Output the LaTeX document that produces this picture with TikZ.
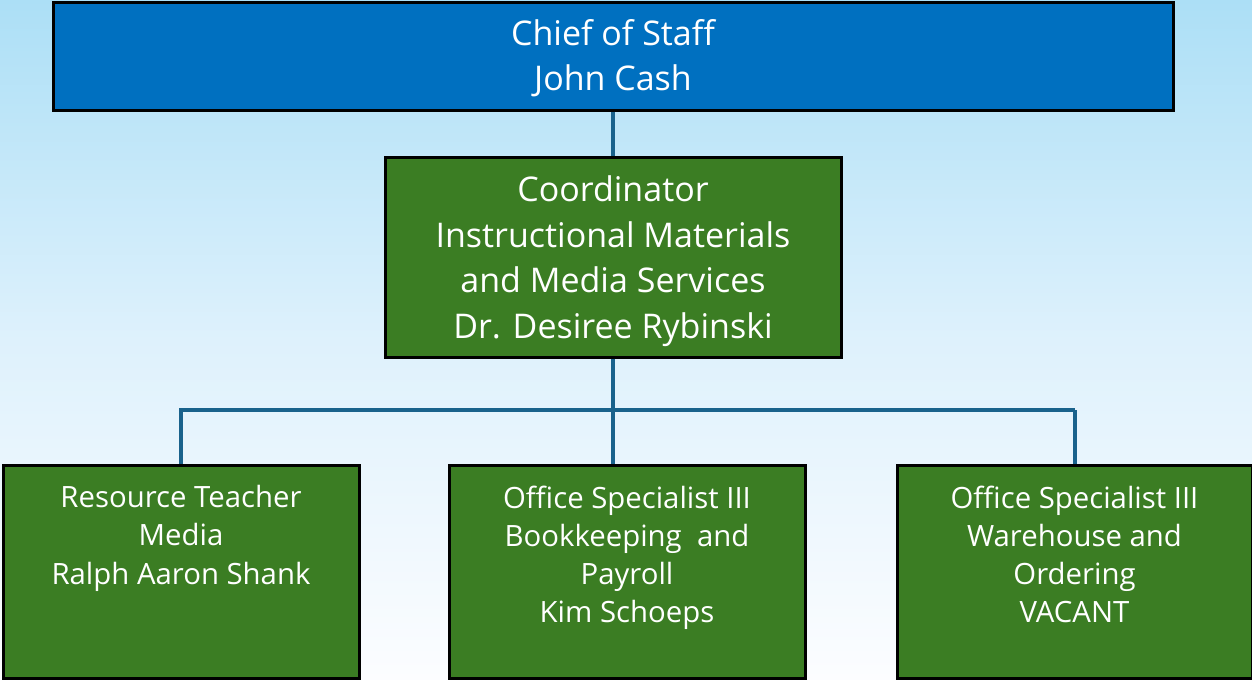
\documentclass[tikz,border=0pt]{standalone}
\usepackage{fontspec}
\setmainfont{Open Sans}
\definecolor{bgtop}{RGB}{172,223,246}
\definecolor{bgmid}{RGB}{222,241,252}
\definecolor{bgbot}{RGB}{252,253,255}
\definecolor{topblue}{RGB}{0,112,192}
\definecolor{boxgreen}{RGB}{59,125,35}
\definecolor{connblue}{RGB}{25,98,140}
\tikzset{
  box/.style={draw=black, line width=2.25pt, rectangle, inner sep=0pt},
  bigtext/.style={text=white, align=center, font=\fontsize{25.5}{34.2}\selectfont},
  smalltext/.style={text=white, align=center, font=\fontsize{22}{28.6}\selectfont},
  conn/.style={draw=connblue, line width=3pt}
}
\begin{document}
\begin{tikzpicture}[x=0.75pt,y=-0.75pt]
\shade[top color=bgtop, bottom color=bgbot, middle color=bgmid] (0,0) rectangle (1252,679);
\useasboundingbox (0,0) rectangle (1252,679);
% boxes
\node[box, fill=topblue, minimum width=840pt, minimum height=81pt] (chief) at (613,56) {};
\node[bigtext] (chieft) at ([yshift=-1.5pt]chief.center) {Chief of Staff\\John Cash};
\node[box, fill=boxgreen, minimum width=342pt, minimum height=150pt] (coord) at (613,257) {};
\node[bigtext] (coordt) at ([yshift=-3pt]coord.center) {Coordinator\\Instructional Materials\\and Media Services\\Dr. Desiree Rybinski};
\node[box, fill=boxgreen, minimum width=267pt, minimum height=159.75pt] (b1) at (181,571.5) {};
\node[box, fill=boxgreen, minimum width=267pt, minimum height=159.75pt] (b2) at (627,571.5) {};
\node[box, fill=boxgreen, minimum width=266.25pt, minimum height=159.75pt] (b3) at (1074.5,571.5) {};
\node[smalltext, anchor=north] (b1t) at ([yshift=-13pt]b1.north) {Resource Teacher\\Media\\Ralph Aaron Shank};
\node[smalltext, anchor=north] (b2t) at ([yshift=-13pt]b2.north) {Office Specialist III\\Bookkeeping\ \ and\\Payroll\\Kim Schoeps};
\node[smalltext, anchor=north] (b3t) at ([yshift=-13pt]b3.north) {Office Specialist III\\Warehouse and\\Ordering\\VACANT};
% connectors
\coordinate (j) at (613,410);
\draw[conn] (chief.south) -- (coord.north);
\draw[conn] (coord.south) -- (coord.south |- b2.north);
\draw[conn] ([xshift=-1.5pt]b1.north |- j) -- (b3.north |- j);
\draw[conn] (b1.north |- j) -- (b1.north);
\draw[conn] (b3.north |- j) -- (b3.north);
\end{tikzpicture}
\end{document}
